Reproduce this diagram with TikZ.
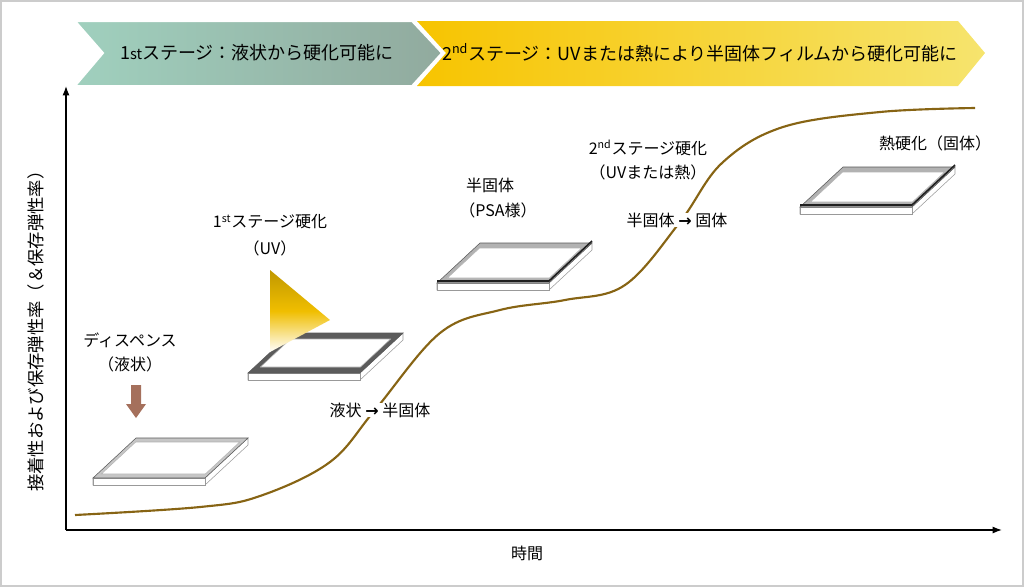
\documentclass[tikz,border=0pt]{standalone}
\usepackage{fontspec}
\setmainfont{Noto Sans CJK JP}
\newfontfamily\symfont{DejaVu Sans}
\usepackage{tikz}
\usetikzlibrary{arrows.meta,calc}
\definecolor{stGreenL}{RGB}{160,208,190}
\definecolor{stGreenR}{RGB}{145,170,158}
\definecolor{stGoldL}{RGB}{247,196,0}
\definecolor{stGoldR}{RGB}{246,228,110}
\definecolor{cvBrown}{RGB}{135,100,20}
\definecolor{dpBrown}{RGB}{165,112,92}
\definecolor{uvGold}{RGB}{240,190,0}
\newcommand{\goesto}{{\symfont\bfseries →}}
% plate: front-left corner x, y, frame colour, frame width
\newcommand{\plate}[4]{%
  \fill[white, draw=gray!80] (#1,#2) -- ++(112,0) -- ++(43,-40) -- ++(0,7) -- ++(-43,40) -- ++(-112,0) -- cycle;
  \fill[white, draw=gray!80] (#1,#2) -- ++(112,0) -- ++(0,7) -- ++(-112,0) -- cycle;
  \fill[#3, draw=gray!70!black] (#1,#2) -- ++(112,0) -- ++(43,-40) -- ++(-112,0) -- cycle;
  \fill[white, draw=gray!60] ($(#1,#2)+(2.075*#4,-#4)$) -- ($(#1,#2)+(112+0.075*#4,-#4)$)
    -- ($(#1,#2)+(155-2.075*#4,-40+#4)$) -- ($(#1,#2)+(43-0.075*#4,-40+#4)$) -- cycle;
}
\begin{document}
\begin{tikzpicture}[x=0.75pt, y=-0.75pt,
  lbl/.style={font=\fontsize{12}{14}\selectfont, inner sep=1pt},
  stage/.style={font=\fontsize{13.5}{16}\selectfont}]
  \useasboundingbox (0,0) rectangle (1024,587);
  \draw[gray!40, line width=1.5pt] (1,1) rectangle (1023,586);

  % stage chevrons
  \shade[left color=stGoldL, right color=stGoldR] (417,21) -- (958,21) -- (985,53) -- (958,86) -- (417,86) -- (446,53) -- cycle;
  \shade[left color=stGreenL, right color=stGreenR, draw=white, line width=1.5pt] (75,21) -- (412,21) -- (442,53) -- (412,86) -- (75,86) -- (103,53) -- cycle;
  \node[stage] (st1) at (257,53) {1{\fontsize{11}{12}\selectfont st}ステージ：液状から硬化可能に};
  \node[stage] (st2) at (700,53) {2\textsuperscript{nd}ステージ：UVまたは熱により半固体フィルムから硬化可能に};

  % axes
  \coordinate (o) at (66,530);
  \coordinate (ytop) at (66,86);
  \coordinate (xend) at (1002,530);
  \draw[-{Latex[length=7pt]}, line width=1pt] (o) -- (ytop);
  \draw[-{Latex[length=7pt]}, line width=1pt] (o) -- (xend);
  \node[lbl, rotate=90, font=\fontsize{13}{15}\selectfont] (ylab) at (36,327) {接着性および保存弾性率（＆保存弾性率）};
  \node[lbl] (xlab) at (527,553) {時間};

  % curve
  \draw[cvBrown, line width=1.6pt] plot[smooth, tension=0.6] coordinates {(75,515) (200,507) (260,496) (330,462) (375,410) (440,333) (500,310) (565,300) (625,285) (680,222) (722,163) (783,127) (880,112) (975,108)};

  % plates
  \plate{93}{478}{gray!45}{4}
  \plate{248}{373}{gray!30!black!75}{6}
  \plate{437}{283}{gray!60}{5}
  \plate{800}{207}{gray!60}{5}
  \draw[gray!25!black, line width=1.2pt] (437,281) -- ++(112,0) -- ++(43,-40);
  \draw[gray!25!black, line width=1.2pt] (800,205) -- ++(112,0) -- ++(43,-40);

  % UV light
  \shade[shading=axis, shading angle=-30, top color=uvGold!80!black, bottom color=white, middle color=uvGold] (270,270) -- (330,320) -- (270,352) -- cycle;

  % dispense arrow
  \fill[dpBrown] (131,385) -- (141,385) -- (141,404) -- (146,404) -- (136,418) -- (126,404) -- (131,404) -- cycle;

  % labels
  \node[lbl] (dsp) at (130,340) {ディスペンス};
  \node[lbl] (dspb) at (130,364) {（液状）};
  \node[lbl] (uv) at (270,222) {1\textsuperscript{st}ステージ硬化};
  \node[lbl] (uvb) at (270,248) {（UV）};
  \node[lbl] (psa) at (490,185) {半固体};
  \node[lbl] (psab) at (498,210) {（PSA様）};
  \node[lbl] (sec) at (648,148) {2\textsuperscript{nd}ステージ硬化};
  \node[lbl] (secb) at (648,172) {（UVまたは熱）};
  \node[lbl, fill=white, inner sep=0pt] (tr1) at (380,410) {液状 \goesto\ 半固体};
  \node[lbl, fill=white, inner sep=0pt] (tr2) at (677,220) {半固体 \goesto\ 固体};
  \node[lbl] (hard) at (935,143) {熱硬化（固体）};
\end{tikzpicture}
\end{document}
